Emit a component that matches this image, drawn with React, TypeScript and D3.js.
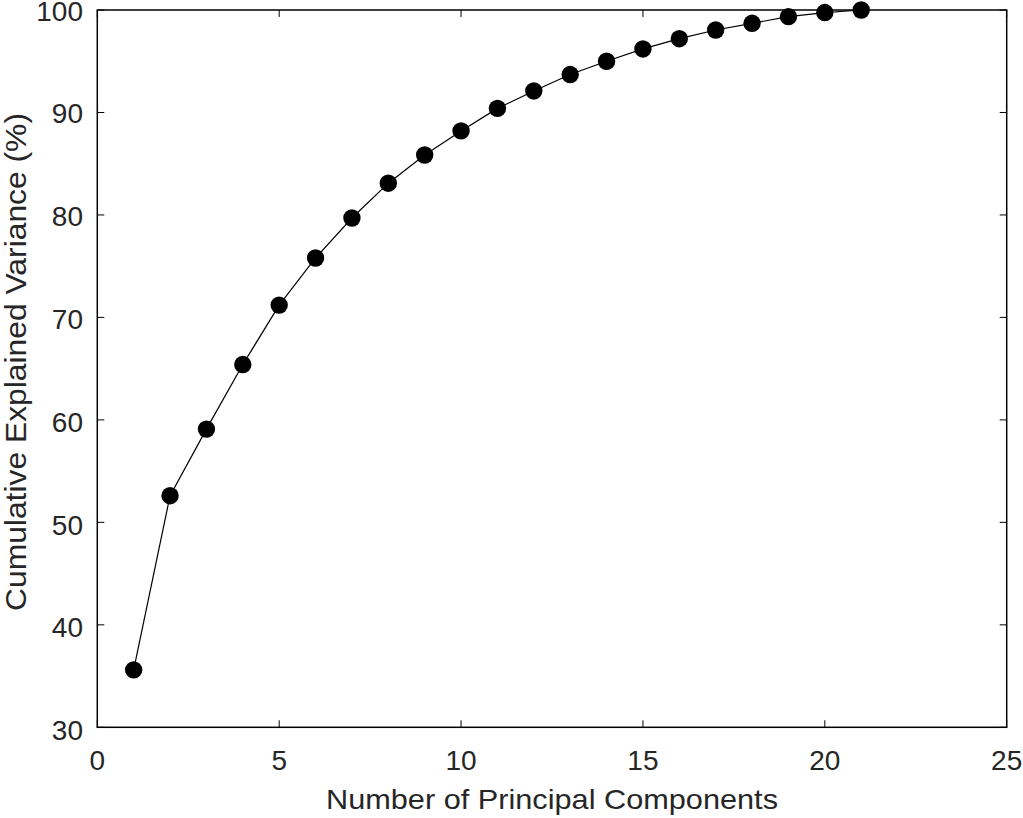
import React from "react";
import * as d3 from "d3";

const components = [1, 2, 3, 4, 5, 6, 7, 8, 9, 10, 11, 12, 13, 14, 15, 16, 17, 18, 19, 20, 21];
const cumulativeVariance = [
  35.6, 52.6, 59.1, 65.4, 71.2, 75.8, 79.7, 83.1, 85.85, 88.2, 90.4, 92.1, 93.7, 95.0, 96.2, 97.2, 98.05, 98.7,
  99.35, 99.75, 100.0,
];
const xTicks = [0, 5, 10, 15, 20, 25];
const yTicks = [30, 40, 50, 60, 70, 80, 90, 100];
const xLabel = "Number of Principal Components";
const yLabel = "Cumulative Explained Variance (%)";

export default function App() {
  const W = 1023;
  const H = 818;
  const left = 97.3;
  const right = 1006.7;
  const top = 10;
  const bottom = 727.3;
  const x = d3.scaleLinear().domain([0, 25]).range([left, right]);
  const y = d3.scaleLinear().domain([30, 100]).range([bottom, top]);
  const labelOffset = d3.scaleLinear().domain([30, 100]).range([13, 10.5]);
  const line = d3
    .line<number>()
    .x((_, i) => x(components[i]))
    .y((d) => y(d));
  const tickLen = 7;
  const font = "'Liberation Sans', Arial, Helvetica, sans-serif";
  const textColor = "#262626";
  return (
    <svg
      width={W}
      height={H}
      style={{ position: "absolute", left: 0, top: 0, background: "#fff" }}
      fontFamily={font}
    >
      <rect x={0} y={0} width={W} height={H} fill="#fff" />
      {xTicks.map((t) => (
        <g key={"xt" + t}>
          <line x1={x(t)} x2={x(t)} y1={bottom} y2={bottom - tickLen} stroke="#000" strokeWidth={1} />
          <line x1={x(t)} x2={x(t)} y1={top} y2={top + tickLen} stroke="#000" strokeWidth={1} />
          <text x={x(t)} y={770} textAnchor="middle" fontSize={28} fill={textColor}>
            {t}
          </text>
        </g>
      ))}
      {yTicks.map((t) => (
        <g key={"yt" + t}>
          <line x1={left} x2={left + tickLen} y1={y(t)} y2={y(t)} stroke="#000" strokeWidth={1} />
          <line x1={right} x2={right - tickLen} y1={y(t)} y2={y(t)} stroke="#000" strokeWidth={1} />
          <text x={83} y={y(t) + labelOffset(t)} textAnchor="end" fontSize={28} fill={textColor}>
            {t}
          </text>
        </g>
      ))}
      <rect
        x={left}
        y={top}
        width={right - left}
        height={bottom - top}
        fill="none"
        stroke="#000"
        strokeWidth={1.5}
      />
      <path d={line(cumulativeVariance) || ""} fill="none" stroke="#000" strokeWidth={1.2} />
      {cumulativeVariance.map((v, i) => (
        <circle key={i} cx={x(components[i])} cy={y(v)} r={8.7} fill="#000" />
      ))}
      <text
        x={326}
        y={809}
        textAnchor="start"
        fontSize={28}
        fill={textColor}
        textLength={452}
        lengthAdjust="spacingAndGlyphs"
      >
        {xLabel}
      </text>
      <text
        transform={`translate(25.5, 611) rotate(-90)`}
        textAnchor="start"
        fontSize={30}
        fill={textColor}
        textLength={498}
        lengthAdjust="spacingAndGlyphs"
      >
        {yLabel}
      </text>
    </svg>
  );
}
